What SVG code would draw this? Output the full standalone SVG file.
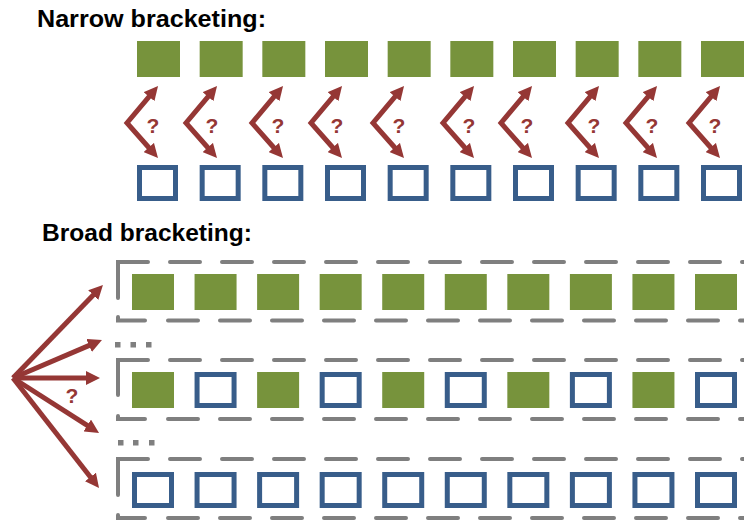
<svg xmlns="http://www.w3.org/2000/svg" width="744" height="520" viewBox="0 0 744 520">
<defs>
<marker id="ah" markerUnits="userSpaceOnUse" markerWidth="14" markerHeight="14" viewBox="0 0 14 14" refX="6" refY="7" orient="auto-start-reverse"><path d="M0,0 L14,7 L0,14 z" fill="#953735"/></marker>
</defs>
<style>
.title{font-family:"Liberation Sans",Arial,sans-serif;font-weight:bold;font-size:24px;fill:#000}
.q{font-family:"Liberation Sans",Arial,sans-serif;font-weight:bold;font-size:21px;fill:#953735;text-anchor:middle}
.g{fill:#77933C}
.b{fill:#fff;stroke:#385D8A;stroke-width:5}
.arr{fill:none;stroke:#953735;stroke-width:5;marker-end:url(#ah)}
.chev{fill:none;stroke:#953735;stroke-width:5;stroke-linejoin:miter;marker-start:url(#ah);marker-end:url(#ah)}
.d{fill:none;stroke:#7F7F7F;stroke-width:4;stroke-linecap:round}
.dd{fill:none;stroke:#7F7F7F;stroke-width:4;stroke-linecap:round;stroke-dasharray:30 22}
.dot{fill:#7F7F7F}
</style>
<text class="title" x="37" y="27" textLength="229" lengthAdjust="spacingAndGlyphs">Narrow bracketing:</text>
<text class="title" x="42" y="241" textLength="210" lengthAdjust="spacingAndGlyphs">Broad bracketing:</text>

<g id="narrow-green">
<rect id="ng1" class="g" x="137" y="41" width="43" height="36"/>
<rect id="ng2" class="g" x="199.67" y="41" width="43" height="36"/>
<rect id="ng3" class="g" x="262.33" y="41" width="43" height="36"/>
<rect id="ng4" class="g" x="325" y="41" width="43" height="36"/>
<rect id="ng5" class="g" x="387.67" y="41" width="43" height="36"/>
<rect id="ng6" class="g" x="450.33" y="41" width="43" height="36"/>
<rect id="ng7" class="g" x="513" y="41" width="43" height="36"/>
<rect id="ng8" class="g" x="575.67" y="41" width="43" height="36"/>
<rect id="ng9" class="g" x="638.33" y="41" width="43" height="36"/>
<rect id="ng10" class="g" x="701" y="41" width="43" height="36"/>
</g>
<g id="narrow-blue">
<rect id="nb1" class="b" x="139.5" y="167.5" width="36" height="31"/>
<rect id="nb2" class="b" x="202.17" y="167.5" width="36" height="31"/>
<rect id="nb3" class="b" x="264.83" y="167.5" width="36" height="31"/>
<rect id="nb4" class="b" x="327.5" y="167.5" width="36" height="31"/>
<rect id="nb5" class="b" x="390.17" y="167.5" width="36" height="31"/>
<rect id="nb6" class="b" x="452.83" y="167.5" width="36" height="31"/>
<rect id="nb7" class="b" x="515.5" y="167.5" width="36" height="31"/>
<rect id="nb8" class="b" x="578.17" y="167.5" width="36" height="31"/>
<rect id="nb9" class="b" x="640.83" y="167.5" width="36" height="31"/>
<rect id="nb10" class="b" x="703.5" y="167.5" width="36" height="31"/>
</g>

<g id="box1">
<path class="d" d="M118,298 V262 H148"/>
<path class="dd" d="M170,262 H780"/>
<path class="d" d="M118,317 V320.5 H145"/>
<path class="dd" d="M168,320.5 H780"/>
<rect class="g" x="132" y="274" width="42" height="36"/>
<rect class="g" x="194.56" y="274" width="42" height="36"/>
<rect class="g" x="257.11" y="274" width="42" height="36"/>
<rect class="g" x="319.67" y="274" width="42" height="36"/>
<rect class="g" x="382.22" y="274" width="42" height="36"/>
<rect class="g" x="444.78" y="274" width="42" height="36"/>
<rect class="g" x="507.33" y="274" width="42" height="36"/>
<rect class="g" x="569.89" y="274" width="42" height="36"/>
<rect class="g" x="632.44" y="274" width="42" height="36"/>
<rect class="g" x="695" y="274" width="42" height="36"/>
</g>
<g id="dots1">
<rect class="dot" x="115" y="342" width="5.5" height="5.5"/>
<rect class="dot" x="130.5" y="342" width="5.5" height="5.5"/>
<rect class="dot" x="146" y="342" width="5.5" height="5.5"/>
</g>
<g id="box2">
<path class="d" d="M118,395 V360 H148"/>
<path class="dd" d="M170,360 H780"/>
<path class="d" d="M118,416 V419 H145"/>
<path class="dd" d="M168,419 H780"/>
<rect class="g" x="132" y="372" width="42" height="36"/>
<rect class="b" x="197.06" y="374.5" width="37" height="31"/>
<rect class="g" x="257.11" y="372" width="42" height="36"/>
<rect class="b" x="322.17" y="374.5" width="37" height="31"/>
<rect class="g" x="382.22" y="372" width="42" height="36"/>
<rect class="b" x="447.28" y="374.5" width="37" height="31"/>
<rect class="g" x="507.33" y="372" width="42" height="36"/>
<rect class="b" x="572.39" y="374.5" width="37" height="31"/>
<rect class="g" x="632.44" y="372" width="42" height="36"/>
<rect class="b" x="697.5" y="374.5" width="37" height="31"/>
</g>
<g id="dots2">
<rect class="dot" x="118" y="440" width="5.5" height="5.5"/>
<rect class="dot" x="133" y="440" width="5.5" height="5.5"/>
<rect class="dot" x="149" y="440" width="5.5" height="5.5"/>
</g>
<g id="box3">
<path class="d" d="M118,495 V459 H148"/>
<path class="dd" d="M170,459 H780"/>
<path class="d" d="M118,515 V518 H145"/>
<path class="dd" d="M168,518 H780"/>
<rect class="b" x="134.5" y="474.5" width="37" height="31"/>
<rect class="b" x="197.06" y="474.5" width="37" height="31"/>
<rect class="b" x="259.61" y="474.5" width="37" height="31"/>
<rect class="b" x="322.17" y="474.5" width="37" height="31"/>
<rect class="b" x="384.72" y="474.5" width="37" height="31"/>
<rect class="b" x="447.28" y="474.5" width="37" height="31"/>
<rect class="b" x="509.83" y="474.5" width="37" height="31"/>
<rect class="b" x="572.39" y="474.5" width="37" height="31"/>
<rect class="b" x="634.94" y="474.5" width="37" height="31"/>
<rect class="b" x="697.5" y="474.5" width="37" height="31"/>
</g>

<g id="connectors">
<polyline class="chev" points="152.9,92.1 127,123 152.7,152"/>
<polyline class="chev" points="211.9,92.1 186,123 211.7,152"/>
<polyline class="chev" points="277.9,92.1 252,123 277.7,152"/>
<polyline class="chev" points="336.9,92.1 311,123 336.7,152"/>
<polyline class="chev" points="398.9,92.1 373,123 398.7,152"/>
<polyline class="chev" points="468.9,92.1 443,123 468.7,152"/>
<polyline class="chev" points="526.9,92.1 501,123 526.7,152"/>
<polyline class="chev" points="593.9,92.1 568,123 593.7,152"/>
<polyline class="chev" points="651.9,92.1 626,123 651.7,152"/>
<polyline class="chev" points="714.9,92.1 689,123 714.7,152"/>
<line class="arr" x1="13" y1="378" x2="97.4" y2="290.8"/>
<line class="arr" x1="13" y1="378" x2="94.6" y2="343.1"/>
<line class="arr" x1="13" y1="378" x2="92" y2="378"/>
<line class="arr" x1="13" y1="378" x2="92.3" y2="428.7"/>
<line class="arr" x1="13" y1="378" x2="94.1" y2="481.7"/>
</g>
<g id="labels">
<text class="q" x="153" y="133">?</text>
<text class="q" x="212" y="133">?</text>
<text class="q" x="278" y="133">?</text>
<text class="q" x="337" y="133">?</text>
<text class="q" x="399" y="133">?</text>
<text class="q" x="469" y="133">?</text>
<text class="q" x="527" y="133">?</text>
<text class="q" x="594" y="133">?</text>
<text class="q" x="652" y="133">?</text>
<text class="q" x="715" y="133">?</text>
<text class="q" x="72" y="403">?</text>
</g>
</svg>
